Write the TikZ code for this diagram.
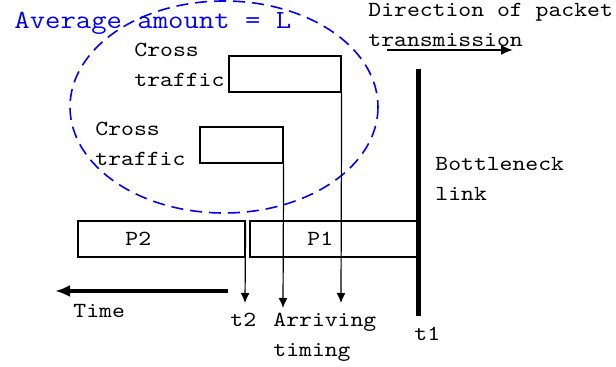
\documentclass[tikz,border=0pt]{standalone}
\usepackage{fontspec}
\usepackage{xcolor}
\usetikzlibrary{arrows.meta}
\setmonofont{Latin Modern Mono}[FakeStretch=1.14]
\definecolor{amount}{RGB}{0,0,255}
\tikzstyle{box}=[draw, line width=.6pt, inner sep=0pt, minimum height=18pt]
\tikzset{txt/.style={font=\ttfamily\fontsize{10.75}{14.75}\selectfont, inner sep=0pt, align=left, anchor=north west}}
\tikzset{flow/.style={-{Latex[length=5pt,width=4.5pt]}, line width=.6pt}}

\begin{document}
\begin{tikzpicture}[x=.5pt,y=-.5pt]
  \useasboundingbox (0,0) rectangle (616,367);
  %% Cross traffic
  \draw[dash pattern=on 6pt off 3.5pt, line width=.8pt, color=amount] (224,107) ellipse [x radius=154, y radius=106];
  \draw (14,12) node[txt, text=amount, font=\ttfamily\fontsize{13.1}{16}\selectfont] (avg) {Average amount = L};
  \draw (285,74) node[box, minimum width=56pt] (C1) {};
  \draw (241.5,145) node[box, minimum width=41.5pt] (C2) {};
  \draw (134,43) node[txt] (C1l) {Cross\\traffic};
  \draw (95,122) node[txt] (C2l) {Cross\\traffic};

  %% Packets
  \draw (161.5,239) node[box, minimum width=83.5pt] (P2) {};
  \draw (333.5,239) node[box, minimum width=83.5pt] (P1) {};
  \draw (125,232) node[txt] (P2l) {P2};
  \draw (307,232) node[txt] (P1l) {P1};

  %% Bottleneck
  \coordinate (B1) at (418,69);
  \coordinate (B2) at (418,316);
  \draw[line width=2.5pt] (B1) -- (B2);
  \draw (435,157) node[txt] (Bl) {Bottleneck\\link};
  \draw (414,327) node[txt] (t1) {t1};

  %% Arriving timing
  \coordinate (A1) at (341,303);
  \coordinate (A2) at (283,308);
  \coordinate (T2) at (245,303);
  \draw[flow] (C1.south east) -- (A1);
  \draw[flow] (C2.south east) -- (A2);
  \draw[flow] (P2.north east) -- (T2);
  \draw (230,313) node[txt] (t2) {t2};
  \draw (273,313) node[txt] (Al) {Arriving\\timing};

  %% Legend things
  \coordinate (D1) at (387,50);
  \coordinate (D2) at (513,50);
  \draw[-{Latex[length=6pt,width=5pt]}, line width=1pt] (D1) -- (D2);
  \draw (368,3) node[txt] (Dl) {Direction of packet\\transmission};
  \coordinate (Ts) at (228,291);
  \coordinate (Te) at (55,291);
  \draw[-{Latex[length=7.5pt,width=6pt]}, line width=2pt] (Ts) -- (Te);
  \draw (73,304) node[txt] (Tl) {Time};
\end{tikzpicture}
\end{document}
